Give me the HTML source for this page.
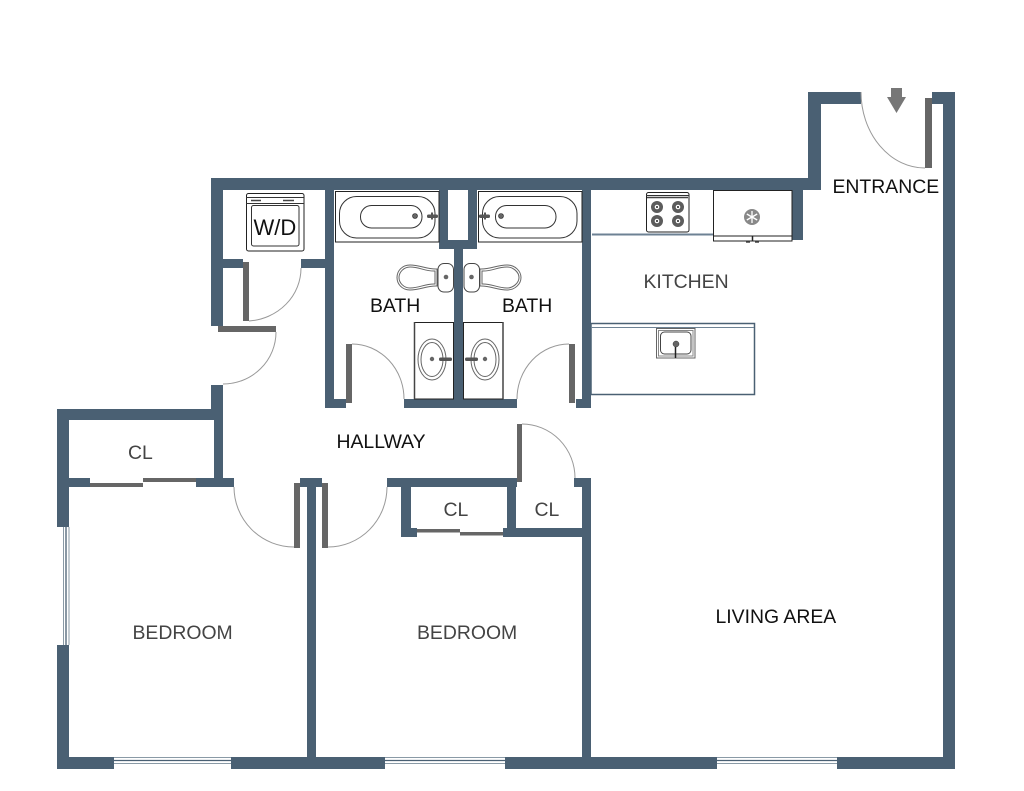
<!DOCTYPE html>
<html><head><meta charset="utf-8"><style>
html,body{margin:0;padding:0;background:#fff;width:1024px;height:791px;overflow:hidden}
svg{display:block}
text{font-family:"Liberation Sans",sans-serif;font-size:19.4px}
.w rect{fill:#4a6073}
.g rect{fill:#666}
.a path{fill:none;stroke:#999;stroke-width:1}
.f{fill:#fff;stroke:#222;stroke-width:1}
.n{fill:none;stroke:#333;stroke-width:1}
.l{fill:none;stroke:#666;stroke-width:1}
.wn{fill:none;stroke:#8a9aa6;stroke-width:1}
.wd{fill:none;stroke:#4a6073;stroke-width:1.3}
</style></head><body>
<svg width="1024" height="791" viewBox="0 0 1024 791" xmlns="http://www.w3.org/2000/svg">
<!-- counters -->
<path d="M592 234.500H713" stroke="#6d8294" stroke-width="2" fill="none"/>
<rect x="591" y="323.500" width="163.500" height="71" fill="#fff" stroke="#4a6073" stroke-width="1.500"/>
<path d="M591 327.500H754" stroke="#6d8294" stroke-width="1"/>
<!-- walls -->
<g class="w">
<rect x="211" y="178" width="610" height="12"/>
<rect x="808" y="92" width="13" height="98"/>
<rect x="808" y="92" width="53" height="12"/>
<rect x="932" y="92" width="23" height="12"/>
<rect x="943" y="92" width="12" height="677"/>
<rect x="792" y="190" width="11" height="50"/>
<rect x="211" y="178" width="12" height="148"/>
<rect x="223" y="259" width="20" height="9"/>
<rect x="301" y="259" width="33" height="9"/>
<rect x="325" y="178" width="9" height="230"/>
<rect x="325" y="399" width="21" height="9"/>
<rect x="404" y="399" width="113" height="9"/>
<rect x="576" y="399" width="15" height="9"/>
<rect x="582" y="178" width="9" height="230"/>
<rect x="439" y="190" width="9" height="59"/>
<rect x="468" y="190" width="9" height="59"/>
<rect x="439" y="240" width="38" height="9"/>
<rect x="454" y="249" width="9" height="159"/>
<rect x="211" y="385" width="12" height="35"/>
<rect x="57" y="409" width="166" height="11"/>
<rect x="57" y="409" width="12" height="118"/>
<rect x="214" y="409" width="9" height="78"/>
<rect x="69" y="478" width="21" height="9"/>
<rect x="196" y="478" width="38" height="9"/>
<rect x="300" y="478" width="22" height="9"/>
<rect x="307" y="478" width="9" height="291"/>
<rect x="387" y="478" width="130" height="9"/>
<rect x="401" y="487" width="10" height="50"/>
<rect x="401" y="528" width="16" height="9"/>
<rect x="503" y="528" width="88" height="9"/>
<rect x="507" y="478" width="9" height="59"/>
<rect x="574" y="478" width="17" height="9"/>
<rect x="582" y="478" width="9" height="291"/>
<rect x="57" y="645" width="12" height="124"/>
<rect x="57" y="757" width="57" height="12"/>
<rect x="231" y="757" width="154" height="12"/>
<rect x="505" y="757" width="212" height="12"/>
<rect x="837" y="757" width="118" height="12"/>
</g>
<!-- windows -->
<path class="wn" d="M114 757.500H231M114 763.500H231M385 757.500H505M385 763.500H505M717 757.500H837M717 763.500H837M63.500 527V645M69 527V645"/>
<path class="wd" d="M114 760.500H231M385 760.500H505M717 760.500H837M66 527V645"/>
<!-- doors -->
<g class="g">
<rect x="243" y="262" width="6" height="59"/>
<rect x="218" y="326" width="58" height="6"/>
<rect x="346" y="344" width="6" height="59"/>
<rect x="569" y="344" width="6" height="59"/>
<rect x="294" y="483" width="6" height="65"/>
<rect x="322" y="483" width="6" height="65"/>
<rect x="517" y="424" width="5" height="58"/>
<rect x="925" y="98" width="7" height="70"/>
<rect x="90" y="483" width="53" height="4"/>
<rect x="143" y="478" width="53" height="4"/>
<rect x="417" y="529" width="43" height="3.500"/>
<rect x="460" y="532" width="43" height="3.500"/>
</g>
<g class="a">
<path d="M301 268A56 53 0 0 1 249 321"/>
<path d="M276 332A53 52 0 0 1 223 384"/>
<path d="M352 344A52 55 0 0 1 404 399"/>
<path d="M569 344A52 55 0 0 0 517 399"/>
<path d="M234 487A60 60 0 0 0 294 547"/>
<path d="M387 487A59 60 0 0 1 328 547"/>
<path d="M522 424A53 54 0 0 1 575 478"/>
<path d="M861 92A64 76 0 0 0 925 168"/>
</g>
<!-- entrance arrow -->
<path d="M891 88H902V97H906L896.500 113L887 97H891Z" fill="#777"/>
<!-- W/D -->
<rect class="f" x="246.500" y="193.500" width="57.500" height="57.500" rx="2"/>
<path class="n" d="M246 197.500H304M246 203.500H304"/>
<rect class="n" x="251.500" y="205.500" width="47.500" height="40.500" rx="2"/>
<path d="M251 200.500H261M283 200.500H294" stroke="#444" stroke-width="1.500"/>
<text x="253.500" y="235" fill="#111" style="font-size:22px">W/D</text>
<!-- tubs -->
<rect class="f" x="335.500" y="191.500" width="103.500" height="50.500"/>
<rect class="n" x="339.500" y="196.500" width="95.500" height="41.500" rx="17"/>
<rect class="n" x="360.500" y="205.500" width="61.500" height="22.500" rx="11"/>
<circle cx="415" cy="216" r="2.500" fill="#666" stroke="#222" stroke-width=".6"/>
<rect x="427" y="214.500" width="11" height="3.500" rx="1.500" fill="#555"/>
<rect x="431" y="212.500" width="2" height="7" fill="#555"/>
<rect class="f" x="478.500" y="191.500" width="103.500" height="50.500"/>
<rect class="n" x="482.500" y="196.500" width="94.500" height="41.500" rx="17"/>
<rect class="n" x="495.500" y="205.500" width="60.500" height="22.500" rx="11"/>
<circle cx="501" cy="216" r="2.500" fill="#666" stroke="#222" stroke-width=".6"/>
<rect x="479" y="214.500" width="11" height="3.500" rx="1.500" fill="#555"/>
<rect x="484" y="212.500" width="2" height="7" fill="#555"/>
<!-- toilets -->
<g>
<path class="l" d="M437 269C427 269.500 420 265 410 265C402 265 397 271 397 277.500C397 284 402 290 410 290C420 290 427 285.500 437 286Z"/>
<path class="l" d="M435 271C425 271.500 420 267 410 267C404 267 399 272 399 277.500C399 283 404 288 410 288C420 288 425 283.500 435 284Z"/>
<rect class="f" x="438" y="263.500" width="15.500" height="28.500" rx="6" style="stroke:#444"/>
<circle cx="446" cy="277" r="2.300" fill="#666"/>
</g>
<g>
<path class="l" d="M480 269C490 269.500 497 265 507 265C515 265 521 271 521 277.500C521 284 515 290 507 290C497 290 490 285.500 480 286Z"/>
<path class="l" d="M482 271C492 271.500 497 267 507 267C513 267 519 272 519 277.500C519 283 513 288 507 288C497 288 492 283.500 482 284Z"/>
<rect class="f" x="464" y="263.500" width="15.500" height="28.500" rx="6" style="stroke:#444"/>
<circle cx="471.500" cy="277" r="2.300" fill="#666"/>
</g>
<!-- sinks -->
<rect class="f" x="414.500" y="322.500" width="39" height="76.500"/>
<path d="M414.500 322V399" stroke="#444" stroke-width="1.500"/>
<ellipse class="l" cx="432" cy="359.500" rx="14" ry="20.500"/>
<ellipse class="l" cx="432" cy="359.500" rx="11" ry="17"/>
<circle cx="432" cy="359" r="2.200" fill="#666"/>
<rect x="439" y="357.500" width="13" height="3.500" rx="1.500" fill="#555"/>
<rect class="f" x="463.500" y="322.500" width="39.500" height="76.500"/>
<path d="M503 322V399" stroke="#444" stroke-width="1.500"/>
<ellipse class="l" cx="485" cy="359.500" rx="14" ry="20.500"/>
<ellipse class="l" cx="485" cy="359.500" rx="11" ry="17"/>
<circle cx="485" cy="359" r="2.200" fill="#666"/>
<rect x="465" y="357.500" width="13" height="3.500" rx="1.500" fill="#555"/>
<!-- stove -->
<rect class="f" x="646.500" y="192.500" width="42.500" height="39.500" rx="2"/>
<path d="M646 195.500H689" stroke="#333" stroke-width="1"/>
<path d="M647 197.500H688" stroke="#444" stroke-width="1.500"/>
<g fill="#5c5c5c"><circle cx="657" cy="207" r="6"/><circle cx="678" cy="207" r="6"/><circle cx="657" cy="221" r="6"/><circle cx="678" cy="221" r="6"/></g>
<g fill="#fff"><circle cx="657" cy="207" r="2.300"/><circle cx="678" cy="207" r="2.300"/><circle cx="657" cy="221" r="2.300"/><circle cx="678" cy="221" r="2.300"/></g>
<g fill="#222"><circle cx="657" cy="207" r="1"/><circle cx="678" cy="207" r="1"/><circle cx="657" cy="221" r="1"/><circle cx="678" cy="221" r="1"/></g>
<!-- fridge -->
<rect class="f" x="713.500" y="190.500" width="78.500" height="45.500"/>
<rect class="f" x="713.500" y="236" width="78.500" height="5"/>
<path d="M752.500 236V241" stroke="#222" stroke-width="1.500"/>
<path d="M746 242H750M755 242H759" stroke="#444" stroke-width="1.500"/>
<circle cx="752" cy="217" r="8" fill="#888"/>
<path d="M752 211V223M746.800 214L757.200 220M746.800 220L757.200 214" stroke="#fff" stroke-width="1.300"/>
<!-- kitchen sink -->
<rect x="656.500" y="328.500" width="38.500" height="29.500" fill="#fff" stroke="#666"/>
<rect x="658.500" y="330.500" width="34.500" height="25.500" fill="#fff" stroke="#888"/>
<rect x="660.500" y="332" width="30.500" height="22" rx="4" fill="#fff" stroke="#444"/>
<circle cx="676" cy="344" r="3" fill="#666" stroke="#333" stroke-width=".5"/>
<path d="M675.500 347V358" stroke="#222" stroke-width="1.500"/>
<!-- labels -->
<g fill="#111">
<text x="370" y="312">BATH</text>
<text x="502" y="312">BATH</text>
<text x="832.500" y="193">ENTRANCE</text>
<text x="336.500" y="448">HALLWAY</text>
<text x="715.500" y="623">LIVING AREA</text>
</g>
<g fill="#444">
<text x="643.500" y="288">KITCHEN</text>
<text x="128" y="459">CL</text>
<text x="443.500" y="516">CL</text>
<text x="534.500" y="516">CL</text>
<text x="132.500" y="639">BEDROOM</text>
<text x="417" y="639">BEDROOM</text>
</g>
</svg>
</body></html>
